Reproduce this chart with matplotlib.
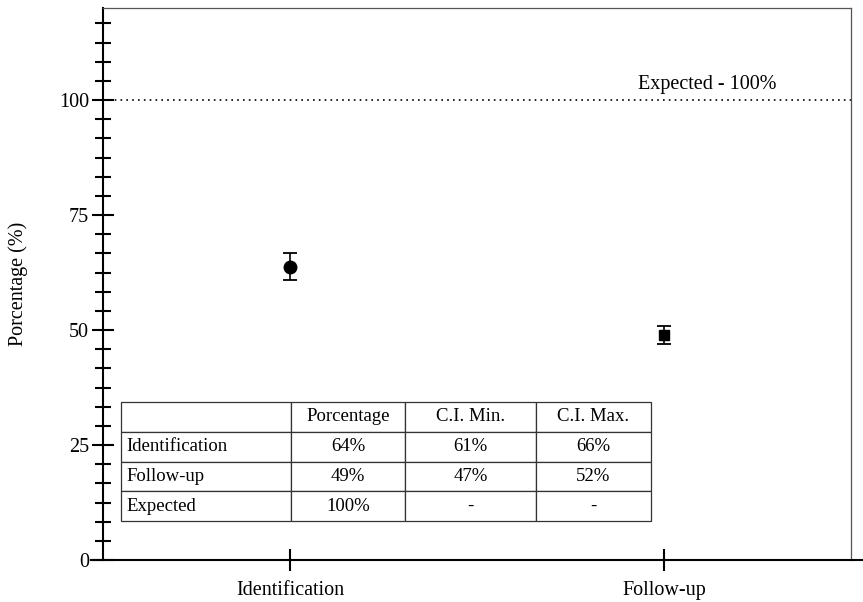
import matplotlib
matplotlib.use("Agg")
import matplotlib.pyplot as plt
from matplotlib.ticker import MultipleLocator

plt.rcParams['font.family'] = ['Liberation Serif', 'DejaVu Serif']

categories = ["Identification", "Follow-up"]
# plotted points and interval ends
point = [63.8, 48.9]
err_low = [60.8, 47.0]
err_high = [66.8, 50.9]
# rounded values shown in the table
pct = [64, 49]
ci_min = [61, 47]
ci_max = [66, 52]
expected = 100
markers = ["o", "s"]
msizes = [9, 6.5]

col_labels = ["", "Porcentage", "C.I. Min.", "C.I. Max."]
row_labels = ["Identification", "Follow-up", "Expected"]

fig = plt.figure(figsize=(8.63, 6.02), dpi=100)
ax = fig.add_axes([103 / 863, 42 / 602, 748 / 863, 552 / 602])

xs = [1, 2]
for x, p, lo, hi, m, ms in zip(xs, point, err_low, err_high, markers, msizes):
  _, caps, _ = ax.errorbar(x, p, yerr=[[p - lo], [hi - p]], fmt=m, color='black', ms=ms,
                           ecolor='black', elinewidth=1.2, capsize=4.7, capthick=1.3, zorder=3)
  for c in caps:
    c.set_color('#777777')

ax.axhline(expected, color='black', linestyle=(0, (1, 2.5)), lw=1.2)
ax.text(2.115, expected + 1.3, "Expected - 100%", ha='center', va='bottom', fontsize=14.5)

ax.set_xlim(0.5, 2.5)
ax.set_ylim(0, 120)
ax.set_xticks(xs)
ax.set_xticklabels(categories, fontsize=14.5)
ax.set_yticks([0, 25, 50, 75, 100])
ax.yaxis.set_minor_locator(MultipleLocator(25 / 6))
ax.tick_params(axis='y', which='major', direction='inout', length=16, width=1.5, labelsize=14.5, pad=2)
ax.tick_params(axis='y', which='minor', direction='inout', length=11, width=1.5)
ax.tick_params(axis='x', which='major', direction='inout', length=16, width=1.5, labelsize=14.5, pad=7)
ax.set_ylabel("Porcentage (%)", fontsize=14.5, labelpad=22)

ax.spines['left'].set_linewidth(1.5)
ax.spines['bottom'].set_linewidth(1.5)
ax.spines['bottom'].set_bounds(0.468, 2.532)
for s in ['top', 'right']:
  ax.spines[s].set_linewidth(0.9)
  ax.spines[s].set_color('#555555')

cells = []
for name, p, lo, hi in zip(row_labels[:2], pct, ci_min, ci_max):
  cells.append([name, f"{p}%", f"{lo}%", f"{hi}%"])
cells.append([row_labels[2], f"{expected}%", "-", "-"])

widths = [170, 114, 131, 115]
tot = sum(widths)
tbl = ax.table(cellText=cells, colLabels=col_labels, colWidths=[w / tot for w in widths],
               bbox=[18 / 748, 39 / 552, 530 / 748, 119 / 552], cellLoc='center')
tbl.auto_set_font_size(False)
tbl.set_fontsize(13.5)
for (r, c), cell in tbl.get_celld().items():
  cell.set_edgecolor('#333333')
  cell.set_linewidth(0.9)
  cell.set_facecolor('white')
  if c == 0:
    cell.get_text().set_ha('left')
    cell.PAD = 0.03

fig.savefig("out.png", dpi=100)
